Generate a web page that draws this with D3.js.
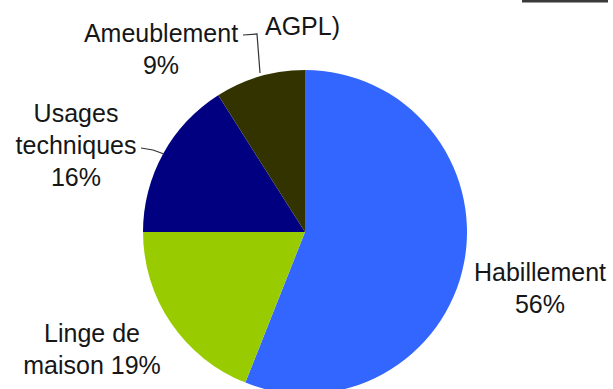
<!DOCTYPE html>
<html>
<head>
<meta charset="utf-8">
<script src="https://cdn.jsdelivr.net/npm/d3@7/dist/d3.min.js"></script>
<style>
  html, body { margin: 0; padding: 0; background: #fff; }
  svg { display: block; }
  text { font-family: "Liberation Sans", Arial, sans-serif; fill: #161616; }
</style>
</head>
<body>
<svg id="chart" width="613" height="389"></svg>
<script>
// Textile consumption by end use (share, %)
const categories = ["Habillement", "Linge de maison", "Usages techniques", "Ameublement"];
const values = [56, 19, 16, 9];
const sliceColors = ["#3366FF", "#99CC00", "#000080", "#333300"];
// Label text: name lines; the percentage is appended (same line or its own line)
const labelNames = [["Habillement"], ["Linge de", "maison"], ["Usages", "techniques"], ["Ameublement"]];
const pctOnLastLine = [false, true, false, false];
const titleTail = "AGPL)";

const svg = d3.select("#chart");
const W = 613, H = 389;
const cx = 305, cy = 232, radius = 162;

const pie = d3.pie().sort(null).value(d => d.value);
const arc = d3.arc().innerRadius(0).outerRadius(radius);
const data = categories.map((c, i) => ({ name: c, value: values[i], color: sliceColors[i], i }));
const arcs = pie(data);

const g = svg.append("g").attr("transform", `translate(${cx},${cy})`);
g.selectAll("path.slice")
  .data(arcs)
  .join("path")
  .attr("class", "slice")
  .attr("d", arc)
  .attr("fill", d => d.data.color);

// Label placement (centre x, first baseline) and leader lines
const fontSize = 25, lineH = 32;
const labelPos = [
  { x: 540, y: 281 },
  { x: 92, y: 342 },
  { x: 76, y: 122 },
  { x: 161, y: 42 }
];
const leaders = [
  null,
  null,
  [[141, 148], [153, 150], [164, 154]],
  [[243, 35], [257, 34], [260, 73]]
];

const line = d3.line();
leaders.forEach(pts => {
  if (!pts) return;
  svg.append("path")
    .attr("d", line(pts))
    .attr("fill", "none")
    .attr("stroke", "#333")
    .attr("stroke-width", 1.2);
});

arcs.forEach((a, i) => {
  const names = labelNames[i].slice();
  const pct = a.data.value + "%";
  if (pctOnLastLine[i]) names[names.length - 1] += " " + pct;
  else names.push(pct);
  const t = svg.append("text")
    .attr("text-anchor", "middle")
    .attr("font-size", fontSize)
    .attr("x", labelPos[i].x)
    .attr("y", labelPos[i].y);
  names.forEach((s, k) => {
    t.append("tspan")
      .attr("x", labelPos[i].x)
      .attr("dy", k === 0 ? 0 : lineH)
      .text(s);
  });
});

// Tail of the title line and the frame edge at the top right
svg.append("text")
  .attr("x", 265)
  .attr("y", 35)
  .attr("font-size", fontSize)
  .text(titleTail);

svg.append("rect")
  .attr("x", 522).attr("y", 0)
  .attr("width", 86).attr("height", 2.5)
  .attr("fill", "#3a3a3a");
</script>
</body>
</html>
